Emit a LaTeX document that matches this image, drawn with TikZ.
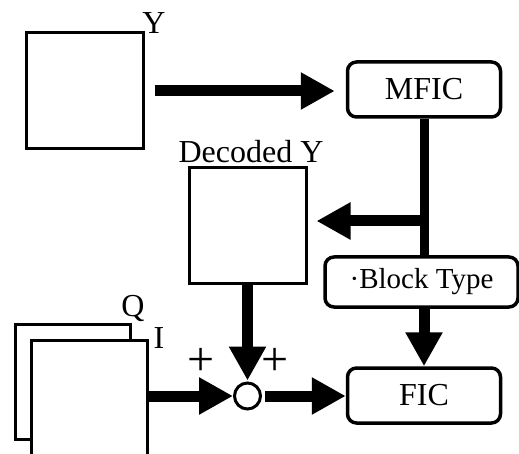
\documentclass[tikz,border=0pt]{standalone}
\usepackage{fontspec}
\setmainfont{Liberation Serif}
\usetikzlibrary{arrows.meta}
\tikzset{
  sqbox/.style={draw, line width=3pt, fill=white, inner sep=0pt},
  rbox/.style={draw, line width=3.5pt, rounded corners=9pt, fill=white, inner sep=0pt},
  fat/.style={line width=11pt, -{Triangle[length=34pt,width=35pt]}},
  lbl/.style={inner sep=0pt, anchor=base},
  plus/.style={inner sep=0pt, font=\fontsize{48}{48}\selectfont},
}
\begin{document}
\begin{tikzpicture}[x=1pt, y=-1pt, font=\fontsize{32}{36}\selectfont]
\clip (0,0) rectangle (519,454);
\fill[white] (0,0) rectangle (519,454);
% boxes
\node[sqbox, minimum width=117pt, minimum height=116pt] (ybox) at (84.5,91) {};
\node[lbl] (ylbl) at (154,34) {Y};
\node[rbox, minimum width=153pt, minimum height=55pt] (mfic) at (424,89.5) {MFIC};
\node[sqbox, minimum width=117pt, minimum height=115pt] (dec) at (247.5,225.5) {};
\node[lbl] (declbl) at (251,163) {Decoded Y};
\node[rbox, minimum width=193pt, minimum height=50pt, font=\fontsize{29}{32}\selectfont] (bt) at (421.5,282) {·Block Type};
\node[rbox, minimum width=153pt, minimum height=55pt] (fic) at (424,395.5) {FIC};
\node[sqbox, minimum width=115pt, minimum height=115pt] (qbox) at (72.5,381.5) {};
\node[sqbox, minimum width=116pt, minimum height=120pt] (ibox) at (89,400) {};
\node[lbl] (qlbl) at (133,316) {Q};
\node[lbl] (ilbl) at (159,348) {I};
\node[draw, circle, line width=3pt, minimum size=26pt, inner sep=0pt] (sum) at (247.5,396) {};
\node[plus] (p1) at (201,362) {+};
\node[plus] (p2) at (275,362) {+};
% connectors
\draw[fat, shorten <=10pt, shorten >=11pt] (ybox.east) -- (ybox.east -| mfic.west);
\draw[line width=9pt] (mfic.south) -- (mfic.south |- bt.north);
\coordinate (br) at (424,221);
\draw[fat, shorten >=9pt] (br) -- (br -| dec.east);
\draw[fat] (bt.south -| fic.north) -- (fic.north);
\draw[fat, shorten >=1pt] (dec.south) -- (sum.north);
\draw[fat] (ibox.east |- sum) -- (sum.west);
\draw[fat, shorten <=3pt] (sum.east) -- (sum -| fic.west);
\end{tikzpicture}
\end{document}
